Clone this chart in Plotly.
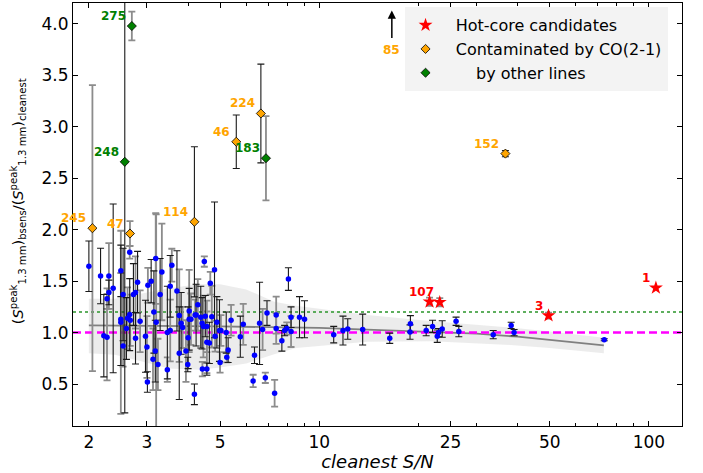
import numpy as np
import plotly.graph_objects as go

# ---------------- data ----------------
# normal sources: S/N, ratio, error, error-bar colour flag (0 black, 1 grey)
sn_norm = [2.00, 2.17, 2.22, 2.27, 2.27, 2.30, 2.30, 2.37, 2.50, 2.50, 2.50, 2.54, 2.54, 2.60, 2.62,
           2.66, 2.67, 2.66, 2.73, 2.77, 2.77, 2.81, 2.86, 2.97, 3.00, 3.02, 3.01, 3.09, 3.13, 3.15,
           3.19, 3.18, 3.24, 3.20, 3.33, 3.29, 3.46, 3.46, 3.53, 3.53, 3.57, 3.70, 3.76, 3.76, 3.81,
           3.85, 3.94, 3.99, 4.00, 4.03, 4.03, 4.08, 4.18, 4.20, 4.23, 4.28, 4.37, 4.42, 4.41, 4.45,
           4.48, 4.51, 4.56, 4.56, 4.56, 4.64, 4.67, 4.72, 4.81, 4.83, 4.89, 4.98, 5.00, 5.03, 5.22,
           5.24, 5.29, 5.40, 5.76, 5.88, 6.30, 6.36, 6.59, 6.73, 6.86, 6.94, 7.32, 7.40, 7.40, 7.70,
           7.85, 7.97, 8.06, 8.21, 8.21, 8.71, 9.02, 11.06, 11.8, 12.2, 13.54, 16.36, 18.9, 18.85,
           21.1, 22.06, 22.8, 23.0, 23.6, 26.0, 26.5, 33.7, 38.2, 39.0, 73.2]
ratio_norm = [1.645, 1.55, 0.97, 0.955, 1.33, 1.39, 1.55, 1.43, 1.13, 1.10, 1.60, 1.37, 0.87, 1.04, 1.14,
              1.175, 1.12, 1.78, 1.37, 1.39, 0.945, 1.49, 1.11, 0.965, 0.86, 1.46, 0.52, 1.50, 0.74, 1.20,
              1.72, 0.82, 0.69, 1.10, 1.59, 1.37, 0.64, 1.00, 1.02, 1.45, 1.655, 1.405, 1.165, 0.80, 1.09,
              1.05, 0.82, 0.69, 0.95, 1.21, 1.13, 1.13, 0.40, 1.17, 1.17, 1.27, 1.15, 0.645, 1.09, 1.06,
              1.69, 1.16, 1.06, 0.645, 0.905, 0.90, 1.48, 1.155, 1.61, 0.965, 1.10, 1.02, 0.71, 1.02, 1.00,
              0.76, 0.83, 1.12, 0.96, 1.08, 0.53, 0.78, 1.09, 1.03, 0.56, 1.19, 0.41, 1.17, 1.04, 0.92,
              1.02, 1.04, 1.52, 1.15, 1.01, 1.15, 1.13, 0.98, 1.02, 1.035, 1.03, 0.945, 1.085, 1.005,
              1.02, 1.06, 0.965, 1.00, 1.035, 1.11, 1.01, 0.98, 1.07, 1.00, 0.93]
err_norm = [0.245, 0.27, 0.40, 0.42, 0.10, 0.12, 0.32, 0.82, 0.45, 0.89, 0.25, 0.45, 0.20, 0.30, 0.30,
            0.35, 0.25, 0.06, 0.30, 0.35, 0.25, 0.30, 0.30, 0.35, 0.30, 0.17, 0.10, 0.21, 0.30, 0.40,
            0.44, 0.30, 0.25, 1.05, 0.47, 0.35, 0.12, 0.45, 0.30, 0.30, 0.16, 0.39, 0.45, 0.45, 0.30,
            0.20, 0.30, 0.07, 0.30, 0.40, 0.30, 0.25, 0.10, 0.15, 0.30, 0.25, 0.30, 0.07, 0.25, 0.30,
            0.05, 0.20, 0.25, 0.06, 0.30, 0.20, 0.11, 0.30, 0.66, 0.15, 0.25, 0.30, 0.10, 0.15, 0.20,
            0.05, 0.12, 0.15, 0.20, 0.20, 0.06, 0.08, 0.40, 0.20, 0.05, 0.12, 0.13, 0.18, 0.15, 0.10,
            0.05, 0.06, 0.11, 0.10, 0.15, 0.20, 0.18, 0.08, 0.14, 0.10, 0.15, 0.05, 0.08, 0.07,
            0.05, 0.06, 0.06, 0.04, 0.08, 0.04, 0.05, 0.04, 0.03, 0.03, 0.01]
grey_norm = [0, 0, 0, 1, 1, 0, 1, 0, 0, 1, 0, 0, 1, 0, 1,
             0, 1, 1, 0, 1, 0, 0, 1, 0, 1, 1, 0, 0, 1, 0,
             1, 0, 1, 1, 1, 0, 1, 0, 1, 0, 1, 0, 1, 0, 0,
             1, 1, 0, 0, 1, 0, 1, 0, 1, 0, 1, 0, 1, 0, 1,
             1, 0, 1, 0, 1, 0, 1, 1, 0, 1, 0, 0, 1, 1, 0,
             1, 0, 1, 0, 1, 1, 0, 0, 1, 1, 0, 1, 1, 1, 0,
             0, 1, 0, 0, 1, 0, 0, 0, 0, 0, 0, 0, 0, 0,
             0, 0, 0, 0, 0, 0, 0, 0, 0, 0, 0]

# hot-core candidates
hc_id = ["", "107", "3", "1"]
hc_sn = [21.6, 23.2, 49.6, 105.0]
hc_ratio = [1.30, 1.295, 1.165, 1.435]
hc_err = [0.04, 0.04, 0.03, 0.0]

# contaminated by CO(2-1)
co_id = ["245", "47", "114", "46", "224", "152"]
co_sn = [2.05, 2.665, 4.18, 5.60, 6.65, 36.7]
co_ratio = [2.015, 1.963, 2.077, 2.855, 3.13, 2.74]
co_err = [1.39, 0.12, 0.73, 0.26, 0.48, 0.03]
co_grey = [1, 1, 0, 0, 0, 0]

# contaminated by other lines
ol_id = ["275", "248", "183"]
ol_sn = [2.70, 2.57, 6.89]
ol_ratio = [3.98, 2.66, 2.695]
ol_err = [0.14, 2.44, 0.41]
ol_grey = [1, 0, 1]

# source 85 off the top of the plot
off_id = "85"
off_sn = 16.6

# smoothed trend and its band
fit_sn = [2.0, 3.0, 5.0, 10.0, 20.0, 30.0, 40.0, 73.0]
fit_val = [1.07, 1.068, 1.06, 1.045, 1.013, 0.99, 0.96, 0.875]
band_sn = [2.0, 2.4, 2.9, 3.5, 4.3, 5.0, 6.0, 7.3, 8.5, 11.0, 14.0, 22.0, 38.0, 50.0, 73.0]
band_lo = [0.80, 0.785, 0.72, 0.65, 0.64, 0.66, 0.70, 0.79, 0.85, 0.88, 0.91, 0.915, 0.88, 0.85, 0.80]
band_hi = [1.33, 1.33, 1.38, 1.43, 1.47, 1.47, 1.42, 1.30, 1.26, 1.21, 1.17, 1.11, 1.05, 1.01, 0.95]

unity_level = 1.0
thresh_level = 1.2

x_ticks = [2, 3, 5, 10, 25, 50, 100]
x_minor = [4, 6, 7, 8, 9, 20, 30, 40, 60, 70, 80, 90]
x_lim = [1.79, 126.0]
y_lim = [0.092, 4.204]

FONT = "DejaVu Sans"
BLUE = "#0000ff"
BLACK_ERR = "#1a1a1a"
GREY_ERR = "#8c8c8c"
NB = "\u00a0"

fig = go.Figure()

# band
fig.add_trace(go.Scatter(x=band_sn, y=band_hi, mode="lines", line=dict(width=0),
                         hoverinfo="skip", showlegend=False))
fig.add_trace(go.Scatter(x=band_sn, y=band_lo, mode="lines", line=dict(width=0),
                         fill="tonexty", fillcolor="rgba(200,200,200,0.35)",
                         hoverinfo="skip", showlegend=False))
# trend line
fig.add_trace(go.Scatter(x=fit_sn, y=fit_val, mode="lines", line=dict(color="#808080", width=1.8),
                         showlegend=False))
# reference lines
fig.add_trace(go.Scatter(x=x_lim, y=[thresh_level] * 2, mode="lines",
                         line=dict(color="#2a952a", width=1.6, dash="dot"), showlegend=False))
fig.add_trace(go.Scatter(x=x_lim, y=[unity_level] * 2, mode="lines",
                         line=dict(color="#ff00ff", width=2.5, dash="8px,4px"), showlegend=False))


def err_trace(xs, ys, es, col, thick):
    return go.Scatter(x=xs, y=ys, mode="markers",
                      marker=dict(size=1, color="rgba(0,0,0,0)"),
                      error_y=dict(type="data", array=es, color=col, thickness=thick, width=3.5),
                      showlegend=False, hoverinfo="skip")


def split(xs, ys, es, gs, flag):
    idx = [i for i, g in enumerate(gs) if g == flag]
    return [xs[i] for i in idx], [ys[i] for i in idx], [es[i] for i in idx]


for flag, col, th in [(1, GREY_ERR, 1.8), (0, BLACK_ERR, 1.1)]:
    fig.add_trace(err_trace(*split(sn_norm, ratio_norm, err_norm, grey_norm, flag), col, th))
    fig.add_trace(err_trace(*split(co_sn, co_ratio, co_err, co_grey, flag), col, th))
    fig.add_trace(err_trace(*split(ol_sn, ol_ratio, ol_err, ol_grey, flag), col, th))
fig.add_trace(err_trace(hc_sn[:3], hc_ratio[:3], hc_err[:3], GREY_ERR, 1.6))

# blue points
fig.add_trace(go.Scatter(x=sn_norm, y=ratio_norm, mode="markers",
                         marker=dict(size=5.5, color=BLUE), showlegend=False))

# legend-carrying traces
fig.add_trace(go.Scatter(x=hc_sn, y=hc_ratio, mode="markers", name=NB * 2 + "Hot-core candidates",
                         marker=dict(symbol="star", size=10.5, color="red", line=dict(width=0))))
fig.add_trace(go.Scatter(x=co_sn, y=co_ratio, mode="markers", name=NB * 2 + "Contaminated by CO(2-1)",
                         marker=dict(symbol="diamond", size=7, color="orange",
                                     line=dict(width=0.8, color="black"))))
fig.add_trace(go.Scatter(x=ol_sn, y=ol_ratio, mode="markers",
                         name=NB * 6 + "by other lines",
                         marker=dict(symbol="diamond", size=7, color="green",
                                     line=dict(width=0.8, color="black"))))

annots = []


def label(txt, xs, ys, col):
    annots.append(dict(x=np.log10(xs), y=ys, xref="x", yref="y", text="<b>%s</b>" % txt,
                       showarrow=False, xanchor="right", yanchor="bottom", xshift=-4, yshift=1,
                       font=dict(family=FONT, size=12, color=col)))


for t, xs, ys in zip(hc_id, hc_sn, hc_ratio):
    if t:
        label(t, xs, ys, "red")
for t, xs, ys in zip(co_id, co_sn, co_ratio):
    label(t, xs, ys, "orange")
for t, xs, ys in zip(ol_id, ol_sn, ol_ratio):
    label(t, xs, ys, "green")

# arrow for source off the top
annots.append(dict(x=np.log10(off_sn), y=4.13, ax=np.log10(off_sn), ay=3.85,
                   xref="x", yref="y", axref="x", ayref="y", text="", showarrow=True,
                   arrowhead=2, arrowsize=1.1, arrowwidth=1.5, arrowcolor="black"))
annots.append(dict(x=np.log10(off_sn), y=3.85, xref="x", yref="y", text="<b>%s</b>" % off_id,
                   showarrow=False, xanchor="center", yanchor="top", yshift=-2,
                   font=dict(family=FONT, size=12, color="orange")))

# y-axis label as rotated annotation
annots.append(dict(xref="paper", yref="paper", x=-0.09, y=0.532, xanchor="center", yanchor="middle",
                   textangle=-90, showarrow=False,
                   text="(<i>S</i><sup>peak</sup><sub>1.3 mm</sub>)<sub>bsens</sub>/"
                        "(<i>S</i><sup>peak</sup><sub>1.3 mm</sub>)<sub>cleanest</sub>",
                   font=dict(family=FONT, size=14.5, color="black")))

fig.update_layout(
    width=703, height=473,
    margin=dict(l=73, r=21, t=3, b=47),
    paper_bgcolor="white", plot_bgcolor="white",
    font=dict(family=FONT, size=17, color="black"),
    annotations=annots,
    legend=dict(x=(404 - 73) / 608, y=0.99, xanchor="left", yanchor="top", traceorder="normal",
                bgcolor="#f3f3f3", bordercolor="#f3f3f3", borderwidth=1,
                font=dict(family=FONT, size=16)),
    xaxis=dict(type="log", range=[np.log10(x_lim[0]), np.log10(x_lim[1])],
               tickmode="array", tickvals=x_ticks, ticktext=[str(v) for v in x_ticks],
               ticks="inside", ticklen=5, tickwidth=1, tickcolor="black",
               minor=dict(tickmode="array", tickvals=x_minor, ticks="inside", ticklen=3,
                          tickwidth=1, tickcolor="black"),
               showline=True, linecolor="black", linewidth=1.2, mirror="ticks",
               showgrid=False, zeroline=False,
               title=dict(text="<i>cleanest S/N</i>", font=dict(size=18), standoff=4)),
    yaxis=dict(range=y_lim, tickmode="array", tickvals=[0.5, 1.0, 1.5, 2.0, 2.5, 3.0, 3.5, 4.0],
               ticktext=["0.5", "1.0", "1.5", "2.0", "2.5", "3.0", "3.5", "4.0"],
               ticks="inside", ticklen=5, tickwidth=1, tickcolor="black",
               showline=True, linecolor="black", linewidth=1.2, mirror="ticks",
               showgrid=False, zeroline=False),
)

fig.write_html("out.html", config={"displayModeBar": False},
               post_script="document.body.style.margin='0';document.body.style.padding='0';")
